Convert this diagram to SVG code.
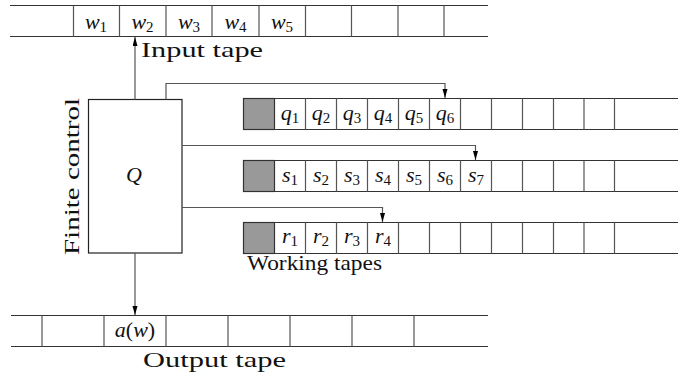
<svg xmlns="http://www.w3.org/2000/svg" width="678" height="375" viewBox="0 0 678 375">
<style>
.tl{stroke:#333;stroke-width:1.2;fill:none}
.dv{stroke:#555;stroke-width:1.2}
.gray{fill:#999;stroke:#333;stroke-width:1.2}
.box{fill:#fff;stroke:#222;stroke-width:1.2}
.cn{stroke:#555;stroke-width:1.2;fill:none}
.lab{font-family:"Liberation Serif",serif;font-size:22px;fill:#111}
.m{font-family:"Liberation Serif",serif;font-size:22px;fill:#111;text-anchor:middle}
.i{font-style:italic}
.s{font-size:15px}
</style>
<defs>
<marker id="ah" markerWidth="10" markerHeight="6" refX="9" refY="2.5" orient="auto" markerUnits="userSpaceOnUse">
<path d="M0,0 L9,2.5 L0,5 z" fill="#000"/>
</marker>
</defs>
<rect width="678" height="375" fill="#fff"/>

<g id="input-tape">
<path class="tl" d="M10,5.5 H488 M10,36.5 H488"/>
<path class="dv" d="M73.5,5.5 V36.5 M119.5,5.5 V36.5 M166,5.5 V36.5 M212,5.5 V36.5 M259,5.5 V36.5 M305.5,5.5 V36.5 M351.5,5.5 V36.5 M398,5.5 V36.5 M444,5.5 V36.5"/>
<text class="m" x="96" y="29"><tspan class="i">w</tspan><tspan class="s" dy="3">1</tspan></text>
<text class="m" x="142.5" y="29"><tspan class="i">w</tspan><tspan class="s" dy="3">2</tspan></text>
<text class="m" x="189" y="29"><tspan class="i">w</tspan><tspan class="s" dy="3">3</tspan></text>
<text class="m" x="235.5" y="29"><tspan class="i">w</tspan><tspan class="s" dy="3">4</tspan></text>
<text class="m" x="282" y="29"><tspan class="i">w</tspan><tspan class="s" dy="3">5</tspan></text>
<text class="lab" x="141" y="57" textLength="122" lengthAdjust="spacingAndGlyphs">Input tape</text>
</g>

<g id="finite-control">
<rect class="box" x="88.5" y="99.5" width="93.5" height="153.5"/>
<text class="m i" x="134" y="182" font-size="26">Q</text>
<text class="lab" transform="translate(79,255) rotate(-90)" textLength="157" lengthAdjust="spacingAndGlyphs">Finite control</text>
</g>

<g id="working-tape-q">
<rect class="gray" x="243.5" y="98.5" width="31" height="31"/>
<path class="tl" d="M243.5,98.5 H678 M243.5,129.5 H678"/>
<path class="dv" d="M305.5,98.5 V129.5 M336.5,98.5 V129.5 M367.5,98.5 V129.5 M398.5,98.5 V129.5 M429.5,98.5 V129.5 M460.5,98.5 V129.5 M491.5,98.5 V129.5 M522.5,98.5 V129.5 M553.5,98.5 V129.5 M584,98.5 V129.5 M614.5,98.5 V129.5"/>
<text class="m" x="290" y="120"><tspan class="i">q</tspan><tspan class="s" dy="3">1</tspan></text>
<text class="m" x="321" y="120"><tspan class="i">q</tspan><tspan class="s" dy="3">2</tspan></text>
<text class="m" x="352" y="120"><tspan class="i">q</tspan><tspan class="s" dy="3">3</tspan></text>
<text class="m" x="383" y="120"><tspan class="i">q</tspan><tspan class="s" dy="3">4</tspan></text>
<text class="m" x="414" y="120"><tspan class="i">q</tspan><tspan class="s" dy="3">5</tspan></text>
<text class="m" x="445" y="120"><tspan class="i">q</tspan><tspan class="s" dy="3">6</tspan></text>
</g>

<g id="working-tape-s">
<rect class="gray" x="243.5" y="160.5" width="31" height="31"/>
<path class="tl" d="M243.5,160.5 H678 M243.5,191.5 H678"/>
<path class="dv" d="M305.5,160.5 V191.5 M336.5,160.5 V191.5 M367.5,160.5 V191.5 M398.5,160.5 V191.5 M429.5,160.5 V191.5 M460.5,160.5 V191.5 M491.5,160.5 V191.5 M522.5,160.5 V191.5 M553.5,160.5 V191.5 M584,160.5 V191.5 M614.5,160.5 V191.5"/>
<text class="m" x="290" y="182"><tspan class="i">s</tspan><tspan class="s" dy="3">1</tspan></text>
<text class="m" x="321" y="182"><tspan class="i">s</tspan><tspan class="s" dy="3">2</tspan></text>
<text class="m" x="352" y="182"><tspan class="i">s</tspan><tspan class="s" dy="3">3</tspan></text>
<text class="m" x="383" y="182"><tspan class="i">s</tspan><tspan class="s" dy="3">4</tspan></text>
<text class="m" x="414" y="182"><tspan class="i">s</tspan><tspan class="s" dy="3">5</tspan></text>
<text class="m" x="445" y="182"><tspan class="i">s</tspan><tspan class="s" dy="3">6</tspan></text>
<text class="m" x="476" y="182"><tspan class="i">s</tspan><tspan class="s" dy="3">7</tspan></text>
</g>

<g id="working-tape-r">
<rect class="gray" x="243.5" y="222.5" width="31" height="31"/>
<path class="tl" d="M243.5,222.5 H678 M243.5,253.5 H678"/>
<path class="dv" d="M305.5,222.5 V253.5 M336.5,222.5 V253.5 M367.5,222.5 V253.5 M398.5,222.5 V253.5 M429.5,222.5 V253.5 M460.5,222.5 V253.5 M491.5,222.5 V253.5 M522.5,222.5 V253.5 M553.5,222.5 V253.5 M584,222.5 V253.5 M614.5,222.5 V253.5"/>
<text class="m" x="290" y="243"><tspan class="i">r</tspan><tspan class="s" dy="2.5">1</tspan></text>
<text class="m" x="321" y="243"><tspan class="i">r</tspan><tspan class="s" dy="2.5">2</tspan></text>
<text class="m" x="352" y="243"><tspan class="i">r</tspan><tspan class="s" dy="2.5">3</tspan></text>
<text class="m" x="383" y="243"><tspan class="i">r</tspan><tspan class="s" dy="2.5">4</tspan></text>
<text class="lab" x="247" y="270" textLength="135" lengthAdjust="spacingAndGlyphs">Working tapes</text>
</g>

<g id="output-tape">
<path class="tl" d="M11,315.5 H488 M11,346.5 H488"/>
<path class="dv" d="M42,315.5 V346.5 M104,315.5 V346.5 M166,315.5 V346.5 M228,315.5 V346.5 M290,315.5 V346.5 M352,315.5 V346.5 M414,315.5 V346.5"/>
<text class="m" x="135" y="337"><tspan class="i">a</tspan>(<tspan class="i">w</tspan>)</text>
<text class="lab" x="143" y="367" textLength="143" lengthAdjust="spacingAndGlyphs">Output tape</text>
</g>

<g id="connectors">
<path class="cn" d="M135,99.5 V37" marker-end="url(#ah)"/>
<path class="cn" d="M135,253 V315" marker-end="url(#ah)"/>
<path class="cn" d="M166,99.5 V83.5 H445 V98" marker-end="url(#ah)"/>
<path class="cn" d="M182,145.5 H475.5 V160" marker-end="url(#ah)"/>
<path class="cn" d="M182,207.5 H382.5 V222" marker-end="url(#ah)"/>
</g>
</svg>
